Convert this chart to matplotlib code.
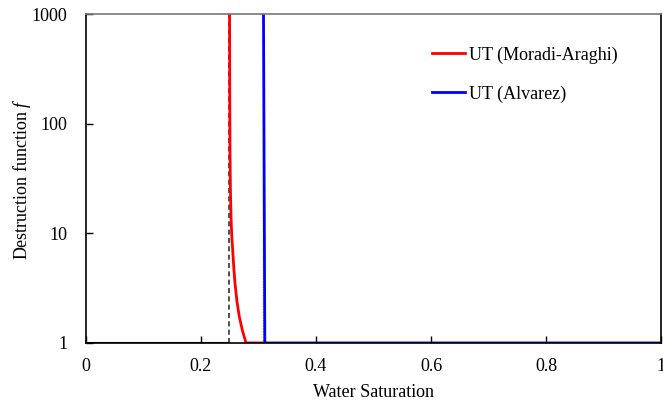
import matplotlib
matplotlib.use("Agg")
import matplotlib.pyplot as plt
from matplotlib.ticker import FixedLocator, NullLocator

plt.rcParams['font.family'] = ['Liberation Serif', 'DejaVu Serif']
plt.rcParams['mathtext.fontset'] = 'custom'
plt.rcParams['mathtext.it'] = 'Liberation Serif:italic'
plt.rcParams['mathtext.rm'] = 'Liberation Serif'

# water saturation / destruction function
sw_base = [0.0, 0.249]
f_base = [1, 1]

sw_moradi = [0.2497, 0.2500, 0.2504, 0.2512, 0.2522, 0.2535, 0.2551, 0.2570,
             0.2591, 0.2625, 0.2666, 0.2720, 0.2783, 0.311]
f_moradi = [1000, 200, 57.5, 25, 14.2, 9.5, 7.05, 4.9,
            3.52, 2.4, 1.74, 1.3, 1.0, 1.0]

sw_alvarez = [0.3087, 0.3110, 1.0]
f_alvarez = [1000, 1.0, 1.0]

swc_moradi = 0.249
swc_alvarez = 0.308

x_ticks = [0, 0.2, 0.4, 0.6, 0.8, 1.0]
x_labels = ['0', '0.2', '0.4', '0.6', '0.8', '1']
y_ticks = [1, 10, 100, 1000]
y_labels = ['1', '10', '100', '1000']

fig = plt.figure(figsize=(6.63, 4.03), dpi=100)
ax = fig.add_axes([0.1297, 0.149, 0.8673, 0.816])

ax.plot(sw_base, f_base, color='black', lw=1.5)
ax.plot([swc_moradi, swc_moradi], [1, 1000], color='#333333', lw=1.2, ls=(0, (3, 2)))
ax.plot([swc_alvarez, swc_alvarez], [1, 1000], color='#999999', lw=1.0, ls=(0, (1, 1)))
ax.plot(sw_moradi, f_moradi, color='red', lw=2, label='UT (Moradi-Araghi)')
ax.plot(sw_alvarez, f_alvarez, color='blue', lw=2, label='UT (Alvarez)')

ax.set_yscale('log')
ax.set_xlim(0, 1)
ax.set_ylim(1, 1000)
ax.xaxis.set_major_locator(FixedLocator(x_ticks))
ax.set_xticklabels(x_labels)
ax.yaxis.set_major_locator(FixedLocator(y_ticks))
ax.yaxis.set_minor_locator(NullLocator())
ax.set_yticklabels(y_labels)
ax.tick_params(direction='in', length=5, width=1, labelsize=13)
ax.tick_params(axis='x', pad=11)
ax.tick_params(axis='y', pad=13.5)

for side in ['left', 'bottom', 'right']:
    ax.spines[side].set_color('black')
    ax.spines[side].set_linewidth(1.2)
ax.spines['top'].set_color('#777777')
ax.spines['top'].set_linewidth(1.2)

ax.set_xlabel('Water Saturation', fontsize=13, labelpad=6)
ax.set_ylabel('Destruction function $\\mathit{f}$', fontsize=13, labelpad=-1)

ax.legend(loc='upper left', bbox_to_anchor=(0.59, 0.924), frameon=False, fontsize=13,
          handlelength=1.78, labelspacing=1.2, handletextpad=0.25,
          borderaxespad=0)

fig.savefig('out.png', dpi=100)
